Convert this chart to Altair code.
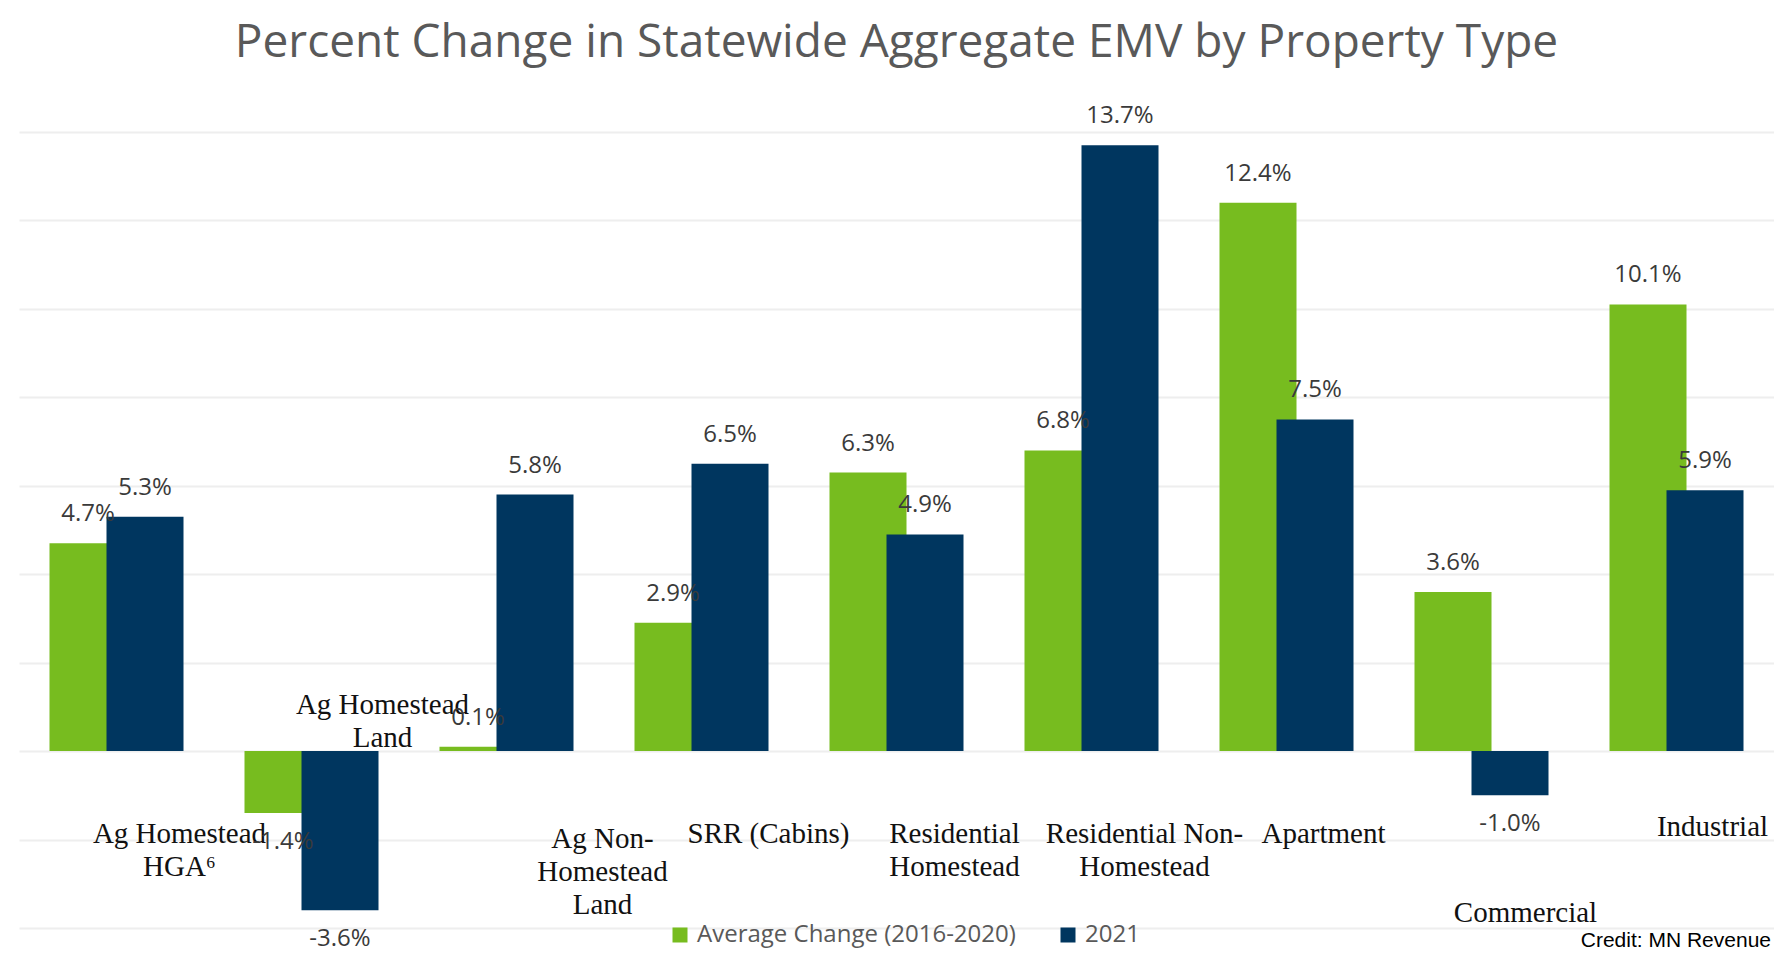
import json
import altair as alt
import pandas as pd

# ---- data ----
categories = [
    "Ag Homestead HGA⁶",
    "Ag Homestead Land",
    "Ag Non-Homestead Land",
    "SRR (Cabins)",
    "Residential Homestead",
    "Residential Non-Homestead",
    "Apartment",
    "Commercial",
    "Industrial",
]
label_lines = [
    ["Ag Homestead", "HGA⁶"],
    ["Ag Homestead", "Land"],
    ["Ag Non-", "Homestead", "Land"],
    ["SRR (Cabins)"],
    ["Residential", "Homestead"],
    ["Residential Non-", "Homestead"],
    ["Apartment"],
    ["Commercial"],
    ["Industrial"],
]
avg_change = [4.7, -1.4, 0.1, 2.9, 6.3, 6.8, 12.4, 3.6, 10.1]
change_2021 = [5.3, -3.6, 5.8, 6.5, 4.9, 13.7, 7.5, -1.0, 5.9]
series = ["Average Change (2016-2020)", "2021"]
colors = ["#77BC1F", "#00365F"]

rows = []
for c, a, b in zip(categories, avg_change, change_2021):
    rows.append({"category": c, "series": series[0], "value": a})
    rows.append({"category": c, "series": series[1], "value": b})
df = pd.DataFrame(rows)

# ---- category label placement (layout styling, per label) ----
label_pad = [-109, -238, -104, -109, -109, -109, -109, -30, -116]
label_off = [63, 71, 96, 67, 58, 53, 37, 44, 36]
cats_js = json.dumps(categories, ensure_ascii=False)
lines_js = json.dumps(label_lines, ensure_ascii=False)
idx = f"indexof({cats_js}, datum.value)"

x_axis = alt.Axis(
    orient="bottom",
    title=None,
    domain=False,
    ticks=False,
    tickSize=0,
    grid=False,
    labelAngle=0,
    labelAlign="center",
    labelBaseline="top",
    labelFont="Liberation Serif",
    labelFontSize=29,
    labelLineHeight=33,
    labelColor="#111111",
    labelOverlap=False,
    labelFlush=False,
    labelLimit=500,
    labelExpr=f"{lines_js}[{idx}]",
    labelPadding={"expr": f"{json.dumps(label_pad)}[{idx}]"},
    labelOffset={"expr": f"{json.dumps(label_off)}[{idx}]"},
)

X = alt.X(
    "category:N",
    sort=categories,
    scale=alt.Scale(domain=categories, paddingInner=0, paddingOuter=0),
    axis=x_axis,
)
Y = alt.Y(
    "value:Q",
    scale=alt.Scale(domain=[-4, 14], nice=False, zero=True),
    axis=alt.Axis(
        values=list(range(-4, 15, 2)),
        grid=True,
        gridColor="#eeeeee",
        gridWidth=2,
        labels=False,
        ticks=False,
        domain=False,
        title=None,
    ),
)
COLOR = alt.Color(
    "series:N",
    scale=alt.Scale(domain=series, range=colors),
    legend=alt.Legend(
        title=None,
        orient="none",
        direction="horizontal",
        legendX=649,
        legendY=791,
        symbolType="square",
        symbolSize=225,
        symbolStrokeWidth=0,
        symbolOpacity=1,
        labelFont="Open Sans",
        labelFontSize=24,
        labelColor="#595959",
        labelOffset=5,
        columnPadding=40,
        labelLimit=600,
    ),
)

base = alt.Chart(df)

bar_size = 77
shift = 28.5


def bars(s, off):
    return base.transform_filter(alt.datum.series == s).mark_bar(
        size=bar_size, xOffset=off
    ).encode(x=X, y=Y, color=COLOR)


def value_labels(s, off, negative):
    test = f"datum.series == '{s}' && datum.value {'<' if negative else '>='} 0"
    return (
        base.transform_filter(test)
        .transform_calculate(
            label="(datum.value < 0 ? '-' : '') + format(abs(datum.value), '.1f') + '%'"
        )
        .mark_text(
            xOffset=off,
            dy=29 if negative else -29,
            baseline="middle",
            align="center",
            font="Open Sans",
            fontSize=24,
            color="#3a3a3a",
        )
        .encode(x=X, y=Y, text="label:N")
    )


credit = alt.Chart(pd.DataFrame({"t": ["Credit: MN Revenue"]})).mark_text(
    align="right",
    baseline="alphabetic",
    font="Liberation Sans",
    fontSize=21,
    color="#000000",
).encode(x=alt.value(1752), y=alt.value(815), text="t:N")

layers = [
    bars(series[0], -shift),
    bars(series[1], shift),
    value_labels(series[0], -shift, False),
    value_labels(series[0], -shift, True),
    value_labels(series[1], shift, False),
    value_labels(series[1], shift, True),
    credit,
]

chart = (
    alt.layer(*layers)
    .properties(
        width=1755,
        height=796,
        title=alt.TitleParams(
            text="Percent Change in Statewide Aggregate EMV by Property Type",
            font="Open Sans",
            fontSize=46,
            fontWeight="normal",
            color="#595959",
            anchor="middle",
            frame="group",
            baseline="alphabetic",
            offset=1,
        ),
        autosize=alt.AutoSizeParams(type="none"),
        padding={"left": 11, "top": 124, "right": 0, "bottom": 24},
        background="#ffffff",
    )
    .configure_view(strokeWidth=0)
)

chart.save("out.html", embed_options={"renderer": "svg", "actions": False})
